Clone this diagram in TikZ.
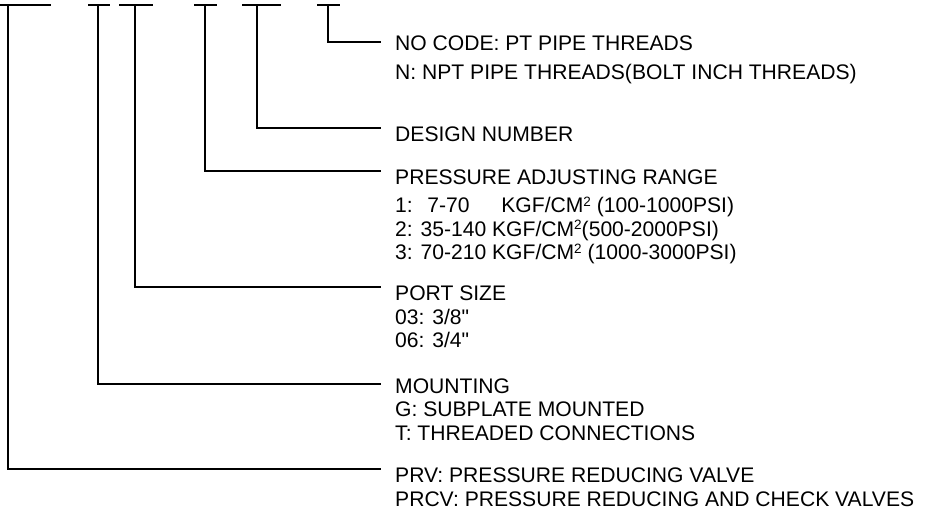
\documentclass[tikz,border=0pt]{standalone}
\usepackage{fontspec}
\setmainfont{Liberation Sans}[Ligatures=TeXOff]
\usetikzlibrary{positioning}
\newcommand{\cmsq}{\raisebox{6.5pt}{\fontsize{13.5}{13.5}\selectfont 2}}
\tikzset{
  codebar/.style={line width=1.8pt, draw=black},
  leadline/.style={line width=1.8pt, draw=black},
  codetext/.style={
    anchor=north west, inner sep=0pt, align=left,
    font=\fontsize{21.1}{23.4}\selectfont},
}

\begin{document}
\begin{tikzpicture}[x=1pt, y=-1pt]
  \useasboundingbox (0,0) rectangle (925,515);
  % code positions along the top
  \coordinate (typ)  at (8,5);
  \coordinate (mnt)  at (98,5);
  \coordinate (port) at (135,5);
  \coordinate (rng)  at (205,5);
  \coordinate (dsn)  at (257,5);
  \coordinate (thr)  at (328,5);
  \draw[codebar] ([xshift=-8pt]typ)   -- ([xshift=43pt]typ);
  \draw[codebar] ([xshift=-10pt]mnt)  -- ([xshift=12pt]mnt);
  \draw[codebar] ([xshift=-16pt]port) -- ([xshift=18pt]port);
  \draw[codebar] ([xshift=-11pt]rng)  -- ([xshift=12pt]rng);
  \draw[codebar] ([xshift=-15pt]dsn)  -- ([xshift=24pt]dsn);
  \draw[codebar] ([xshift=-11pt]thr)  -- ([xshift=12pt]thr);

  \node[codetext] (thr_t) at (395,36)
    {NO CODE: PT PIPE THREADS\\[5.5pt]N: NPT PIPE THREADS(BOLT INCH THREADS)};
  \node[codetext] (dsn_t) at (395,126.7) {DESIGN NUMBER};
  \node[codetext] (rng_t) at (395,170)
    {PRESSURE ADJUSTING RANGE\\[4.5pt]
     1:\hspace{14.7pt}7-70\hspace{31.7pt}KGF/CM\cmsq{} (100-1000PSI)\\
     2: 35-140 KGF/CM\cmsq(500-2000PSI)\\
     3: 70-210 KGF/CM\cmsq{} (1000-3000PSI)};
  \node[codetext] (port_t) at (395,286) {PORT SIZE\\03: 3/8"\\06: 3/4"};
  \node[codetext] (mnt_t) at (395,378.3)
    {MOUNTING\\G: SUBPLATE MOUNTED\\T: THREADED CONNECTIONS};
  \node[codetext] (typ_t) at (395,467.7)
    {PRV: PRESSURE REDUCING VALVE\\PRCV: PRESSURE REDUCING AND CHECK VALVES};

  \draw[leadline] (thr)  |- ([xshift=-14pt,yshift=-6.3pt]thr_t.north west);
  \draw[leadline] (dsn)  |- ([xshift=-14pt,yshift=-1pt]dsn_t.north west);
  \draw[leadline] (rng)  |- ([xshift=-14pt,yshift=-1pt]rng_t.north west);
  \draw[leadline] (port) |- ([xshift=-14pt,yshift=-1.3pt]port_t.north west);
  \draw[leadline] (mnt)  |- ([xshift=-14pt,yshift=-6pt]mnt_t.north west);
  \draw[leadline] (typ)  |- ([xshift=-14pt,yshift=-1.3pt]typ_t.north west);
\end{tikzpicture}
\end{document}
